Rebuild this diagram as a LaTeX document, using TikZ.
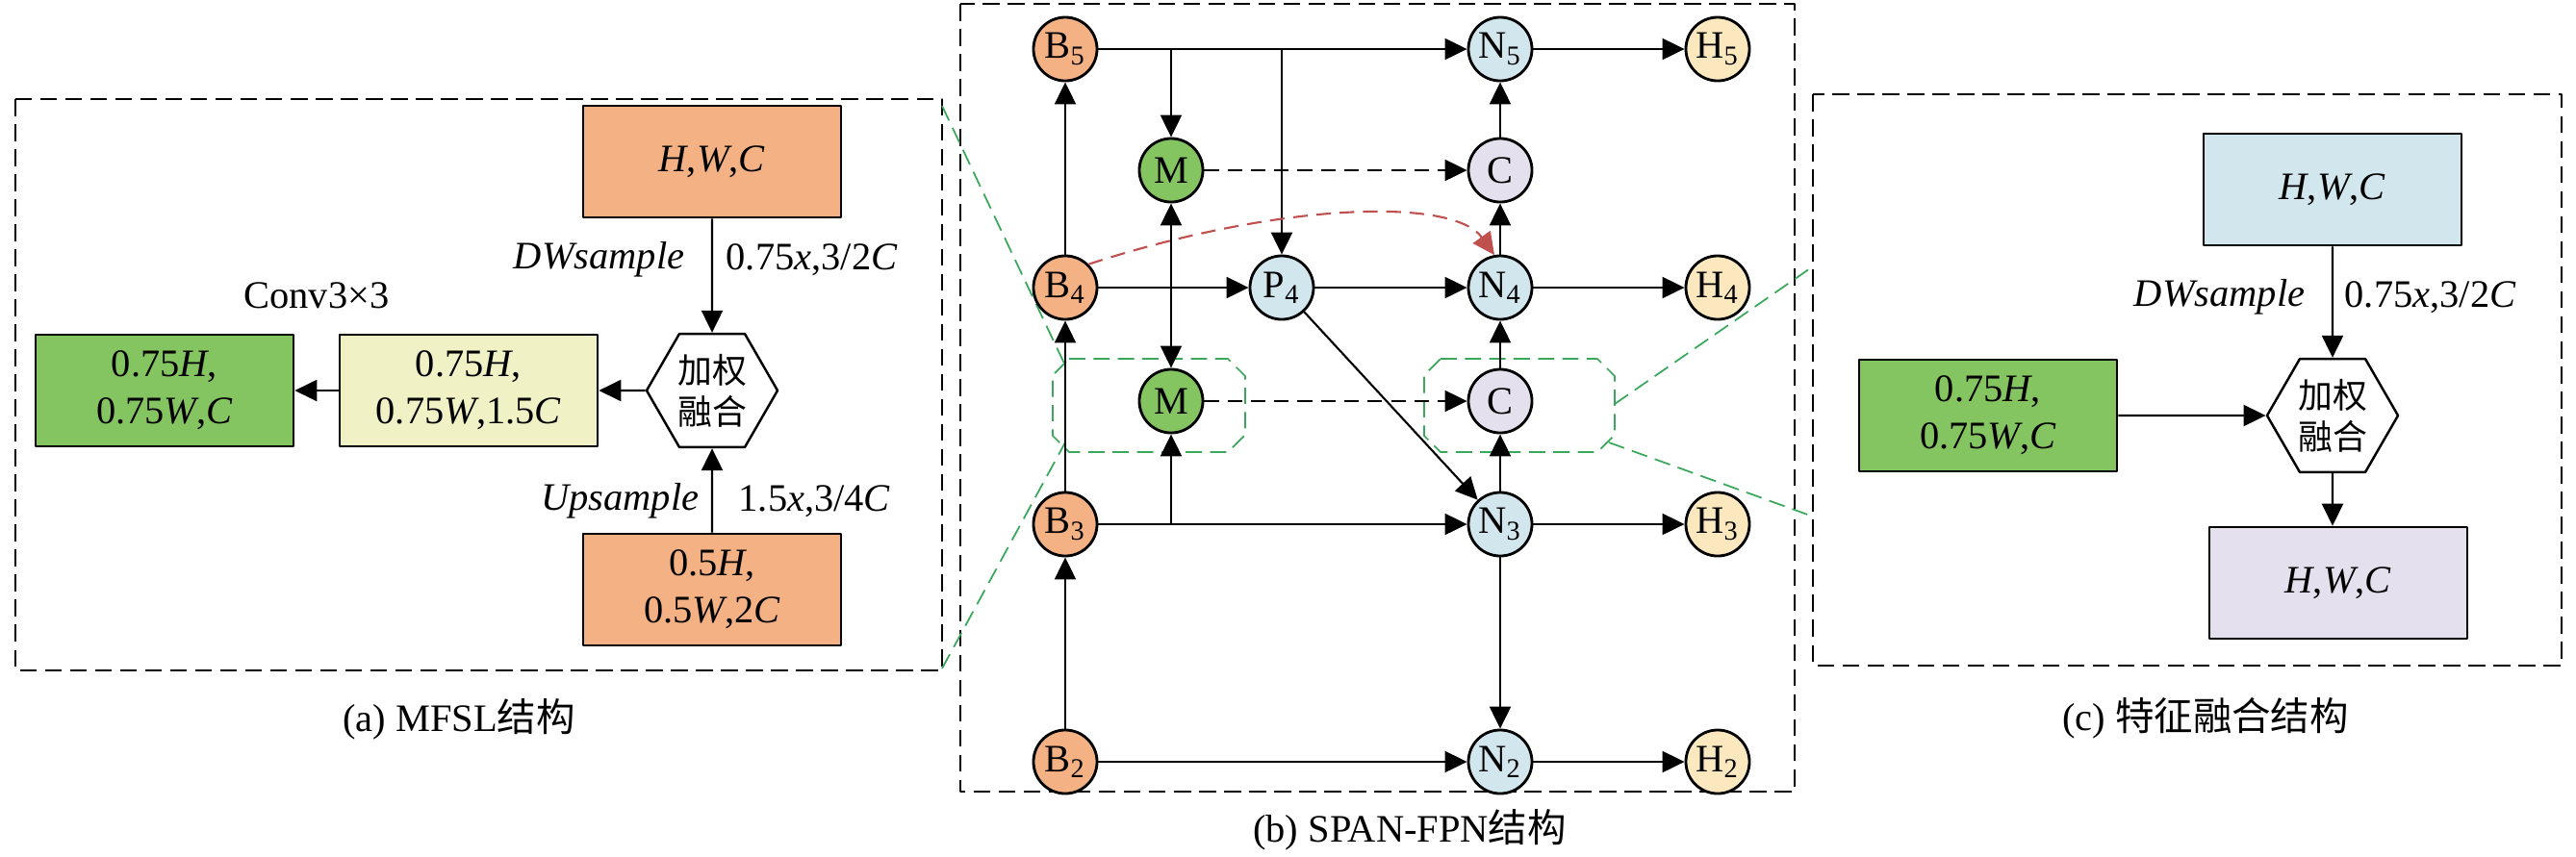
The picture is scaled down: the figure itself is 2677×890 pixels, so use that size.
\documentclass[tikz,border=0pt]{standalone}
\usepackage{fontspec}
\setmainfont{Liberation Serif}
\newfontfamily\cjk{Noto Sans CJK SC}
\usetikzlibrary{arrows.meta,shapes.geometric}
\definecolor{bfill}{HTML}{F4B183}
\definecolor{gfill}{HTML}{84C562}
\definecolor{nfill}{HTML}{D2E6EE}
\definecolor{cfill}{HTML}{E4E0EE}
\definecolor{hfill}{HTML}{FCE8BE}
\definecolor{yfill}{HTML}{F1F1C6}
\definecolor{zgreen}{RGB}{58,168,90}
\definecolor{rcol}{RGB}{192,80,77}
\begin{document}
\begin{tikzpicture}[x=0.01cm,y=-0.01cm,>={Triangle[length=0.23cm,width=0.22cm]},line join=round,
	font=\fontsize{11.5}{13.9}\selectfont,
	nd/.style={circle,draw,line width=0.8pt,minimum size=0.66cm,inner sep=0pt},
	feat/.style={draw,line width=0.7pt,minimum width=2.68cm,minimum height=1.16cm,inner sep=0pt,align=center},
	fuse/.style={regular polygon,regular polygon sides=6,draw,line width=0.7pt,minimum size=1.36cm,inner sep=0pt,align=center,font=\cjk\fontsize{10.2}{12.3}\selectfont},
	lbl/.style={inner sep=0pt},
	link/.style={->,line width=0.6pt},
	dlink/.style={->,line width=0.6pt,dash pattern=on 4.3pt off 2.6pt},
	frame/.style={line width=0.6pt,dash pattern=on 5pt off 2.4pt},
	zoomln/.style={draw=zgreen,line width=0.5pt,dash pattern=on 4.8pt off 2.4pt}]
	\useasboundingbox (0,0) rectangle (2677,890);
	\def\xb{1107} \def\xm{1217} \def\xp{1332} \def\xn{1559} \def\xh{1785}
	\def\ya{51} \def\yb{177} \def\yc{299} \def\yd{417} \def\ye{545} \def\yf{792}
	% (a) MFSL
	\draw[frame] (16,103) rectangle (979,697);
	\node[feat,fill=bfill] (hwcA) at (740,168) {\textit{H},\textit{W},\textit{C}};
	\node[fuse] (fuseA) at (740,406) {加权\\融合};
	\node[feat,fill=yfill] (midA) at (487,406) {0.75\textit{H},\\0.75\textit{W},1.5\textit{C}};
	\node[feat,fill=gfill] (outA) at (171,406) {0.75\textit{H},\\0.75\textit{W},\textit{C}};
	\node[feat,fill=bfill] (lowA) at (740,613) {0.5\textit{H},\\0.5\textit{W},2\textit{C}};
	\node[lbl,anchor=east] (dwA) at (712,270) {\textit{DWsample}};
	\node[lbl,anchor=west] (rateA) at (754,270) {0.75\textit{x},3/2\textit{C}};
	\node[lbl,anchor=east] (upA) at (727,521) {\textit{Upsample}};
	\node[lbl,anchor=west] (rateB) at (767,521) {1.5\textit{x},3/4\textit{C}};
	\node (convA) at (329,307) {Conv3×3};
	\draw[link] (hwcA) -- (fuseA);
	\draw[link] (lowA) -- (fuseA);
	\draw[link] (fuseA) -- (midA);
	\draw[link] (midA) -- (outA);
	\node (capA) at (477,748) {(a) MFSL{\cjk 结构}};
	% (b) SPAN-FPN
	\draw[frame] (998,4) rectangle (1865,823);
	\draw[zoomln] (1111,373) -- (1276,373) -- (1294,391) -- (1294,452) -- (1276,470) -- (1111,470) -- (1094,453) -- (1094,390) -- cycle;
	\draw[zoomln] (1497,373) -- (1660,373) -- (1678,391) -- (1678,452) -- (1660,470) -- (1497,470) -- (1480,453) -- (1480,390) -- cycle;
	\draw[zoomln] (979,110) -- (1107,380);
	\draw[zoomln] (979,695) -- (1107,460);
	\draw[zoomln] (1678,420) -- (1884,277);
	\draw[zoomln] (1672,460) -- (1884,537);
	\node[nd,fill=bfill] (B5) at (\xb,\ya) {B\textsubscript{5}};
	\node[nd,fill=bfill] (B4) at (\xb,\yc) {B\textsubscript{4}};
	\node[nd,fill=bfill] (B3) at (\xb,\ye) {B\textsubscript{3}};
	\node[nd,fill=bfill] (B2) at (\xb,\yf) {B\textsubscript{2}};
	\node[nd,fill=gfill] (M1) at (\xm,\yb) {M};
	\node[nd,fill=gfill] (M2) at (\xm,\yd) {M};
	\node[nd,fill=nfill] (P4) at (\xp,\yc) {P\textsubscript{4}};
	\node[nd,fill=nfill] (N5) at (\xn,\ya) {N\textsubscript{5}};
	\node[nd,fill=cfill] (C1) at (\xn,\yb) {C};
	\node[nd,fill=nfill] (N4) at (\xn,\yc) {N\textsubscript{4}};
	\node[nd,fill=cfill] (C2) at (\xn,\yd) {C};
	\node[nd,fill=nfill] (N3) at (\xn,\ye) {N\textsubscript{3}};
	\node[nd,fill=nfill] (N2) at (\xn,\yf) {N\textsubscript{2}};
	\node[nd,fill=hfill] (H5) at (\xh,\ya) {H\textsubscript{5}};
	\node[nd,fill=hfill] (H4) at (\xh,\yc) {H\textsubscript{4}};
	\node[nd,fill=hfill] (H3) at (\xh,\ye) {H\textsubscript{3}};
	\node[nd,fill=hfill] (H2) at (\xh,\yf) {H\textsubscript{2}};
	\draw[link] (B5) -- (N5);
	\draw[link] (B5 -| M1) -- (M1);
	\draw[link] (B5 -| P4) -- (P4);
	\draw[link] (B4) -- (B5);
	\draw[link] (B3) -- (B4);
	\draw[link] (B2) -- (B3);
	\draw[link] (B4) -- (P4);
	\draw[link] (P4) -- (N4);
	\draw[link,<->] (M1) -- (M2);
	\draw[dlink] (M1) -- (C1);
	\draw[dlink] (M2) -- (C2);
	\draw[link] (B3) -- (N3);
	\draw[link] (B3 -| M2) -- (M2);
	\draw[link] (P4) -- (N3);
	\draw[link] (N4) -- (C1);
	\draw[link] (C1) -- (N5);
	\draw[link] (N3) -- (C2);
	\draw[link] (C2) -- (N4);
	\draw[link] (N3) -- (N2);
	\draw[link] (B2) -- (N2);
	\foreach \i in {5,4,3,2}
		\draw[link] (N\i) -- (H\i);
	\draw[dlink,draw=rcol] (B4.45) .. controls (1330,210) and (1510,205) .. (N4.100);
	\node (capB) at (1465,863) {(b) SPAN-FPN{\cjk 结构}};
	% (c) feature fusion
	\draw[frame] (1884,98) rectangle (2662,692);
	\node[feat,fill=nfill] (hwcC) at (2424,197) {\textit{H},\textit{W},\textit{C}};
	\node[fuse] (fuseC) at (2424,432) {加权\\融合};
	\node[feat,fill=gfill] (inC) at (2066,432) {0.75\textit{H},\\0.75\textit{W},\textit{C}};
	\node[feat,fill=cfill] (outC) at (2430,606) {\textit{H},\textit{W},\textit{C}};
	\node[lbl,anchor=east] (dwC) at (2396,309) {\textit{DWsample}};
	\node[lbl,anchor=west] (rateC) at (2436,309) {0.75\textit{x},3/2\textit{C}};
	\draw[link] (hwcC) -- (fuseC);
	\draw[link] (inC) -- (fuseC);
	\draw[link] (fuseC) -- (fuseC |- outC.north);
	\node (capC) at (2292,747) {(c) {\cjk 特征融合结构}};
\end{tikzpicture}
\end{document}
